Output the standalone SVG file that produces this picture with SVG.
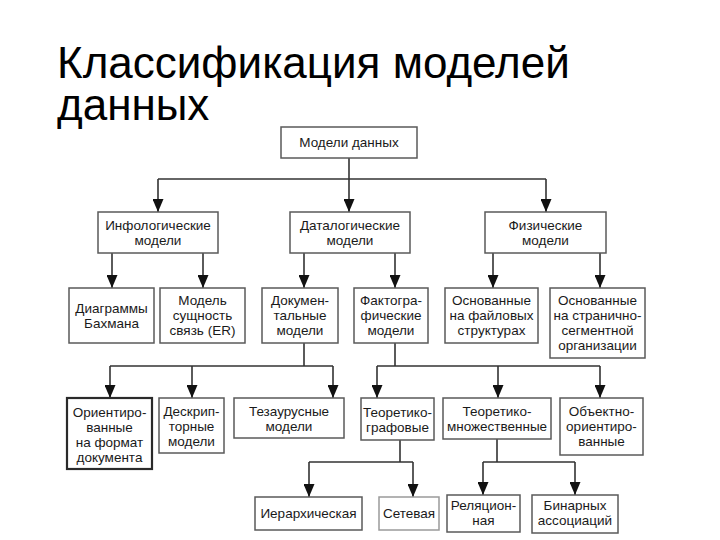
<svg xmlns="http://www.w3.org/2000/svg" width="720" height="540" viewBox="0 0 720 540">
<defs>
<style>
.title{font-family:"Liberation Sans",Arial,sans-serif;font-size:44px;fill:#000}
.box rect{fill:#fff;stroke:#5a5a5a;stroke-width:1.5}
.box text{font-family:"Liberation Sans",Arial,sans-serif;font-size:13.5px;fill:#1a1a1a;text-anchor:middle}
.thick rect{stroke:#2a2a2a;stroke-width:2.2}
.light rect{stroke:#9a9a9a}
.conn path{fill:none;stroke:#333;stroke-width:1.6}
.conn path.arr{marker-end:url(#ah)}
</style>
<marker id="ah" markerUnits="userSpaceOnUse" markerWidth="13" markerHeight="11" viewBox="0 0 13 11" refX="13" refY="5.5" orient="auto">
<path d="M0,0 L13,5.5 L0,11 Z" fill="#111"/>
</marker>
</defs>
<rect width="720" height="540" fill="#fff"/>
<text class="title" x="57" y="78">Классификация моделей</text>
<text class="title" x="57" y="120">данных</text>

<g class="conn" id="connectors">
<path d="M349,158 V179"/>
<path d="M158,179 H546"/>
<path class="arr" d="M158,179 V212"/>
<path class="arr" d="M349,179 V212"/>
<path class="arr" d="M546,179 V212"/>
<path class="arr" d="M112,253 V288"/>
<path class="arr" d="M203,253 V288"/>
<path class="arr" d="M304,253 V288"/>
<path class="arr" d="M395,253 V288"/>
<path class="arr" d="M493,253 V288"/>
<path class="arr" d="M600,253 V288"/>
<path d="M304,343 V366 M110,366 H333"/>
<path class="arr" d="M110,366 V398"/>
<path class="arr" d="M192,366 V398"/>
<path class="arr" d="M333,366 V398"/>
<path d="M395,343 V366 M377,366 H600"/>
<path class="arr" d="M377,366 V398"/>
<path class="arr" d="M498,366 V398"/>
<path class="arr" d="M600,366 V398"/>
<path d="M400,440 V462 M309,462 H413"/>
<path class="arr" d="M309,462 V497"/>
<path class="arr" d="M413,462 V497"/>
<path d="M497,439 V462 M483,462 H575"/>
<path class="arr" d="M483,462 V495"/>
<path class="arr" d="M575,462 V495"/>
</g>

<g class="box" id="n-root"><rect x="281" y="127" width="136" height="31"/><text x="349" y="147">Модели данных</text></g>

<g class="box" id="n-info"><rect x="98" y="212" width="120" height="41"/><text x="158" y="230">Инфологические</text><text x="158" y="245">модели</text></g>
<g class="box" id="n-data"><rect x="290" y="212" width="120" height="41"/><text x="350" y="230">Даталогические</text><text x="350" y="245">модели</text></g>
<g class="box" id="n-phys"><rect x="485" y="212" width="121" height="41"/><text x="545.5" y="230">Физические</text><text x="545.5" y="245">модели</text></g>

<g class="box" id="n-bachman"><rect x="69" y="288" width="85" height="55"/><text x="111.5" y="313">Диаграммы</text><text x="111.5" y="328">Бахмана</text></g>
<g class="box" id="n-er"><rect x="160" y="288" width="85" height="55"/><text x="202.5" y="305">Модель</text><text x="202.5" y="320">сущность</text><text x="202.5" y="335">связь (ER)</text></g>
<g class="box" id="n-doc"><rect x="262" y="288" width="76" height="55"/><text x="300" y="305">Докумен-</text><text x="300" y="320">тальные</text><text x="300" y="335">модели</text></g>
<g class="box" id="n-fact"><rect x="354" y="288" width="74" height="55"/><text x="391" y="305">Фактогра-</text><text x="391" y="320">фические</text><text x="391" y="335">модели</text></g>
<g class="box" id="n-file"><rect x="445" y="288" width="93" height="55"/><text x="491.5" y="305">Основанные</text><text x="491.5" y="320">на файловых</text><text x="491.5" y="335">структурах</text></g>
<g class="box" id="n-page"><rect x="550" y="288" width="95" height="70"/><text x="597.5" y="305">Основанные</text><text x="597.5" y="320">на странично-</text><text x="597.5" y="335">сегментной</text><text x="597.5" y="350">организации</text></g>

<g class="box thick" id="n-format"><rect x="67" y="398" width="85" height="71"/><text x="109.5" y="417">Ориентиро-</text><text x="109.5" y="432">ванные</text><text x="109.5" y="447">на формат</text><text x="109.5" y="462">документа</text></g>
<g class="box" id="n-descr"><rect x="159" y="398" width="65" height="55"/><text x="191.5" y="416">Дескрип-</text><text x="191.5" y="431">торные</text><text x="191.5" y="446">модели</text></g>
<g class="box" id="n-thes"><rect x="234" y="398" width="110" height="40"/><text x="289" y="416">Тезаурусные</text><text x="289" y="431">модели</text></g>
<g class="box" id="n-graph"><rect x="361" y="398" width="73" height="42"/><text x="397.5" y="417">Теоретико-</text><text x="397.5" y="432">графовые</text></g>
<g class="box" id="n-set"><rect x="443" y="398" width="108" height="41"/><text x="497" y="416">Теоретико-</text><text x="497" y="431">множественные</text></g>
<g class="box" id="n-oo"><rect x="560" y="398" width="83" height="57"/><text x="601.5" y="416">Объектно-</text><text x="601.5" y="431">ориентиро-</text><text x="601.5" y="446">ванные</text></g>

<g class="box" id="n-hier"><rect x="255" y="497" width="107" height="33"/><text x="308.5" y="518">Иерархическая</text></g>
<g class="box light" id="n-net"><rect x="379" y="497" width="60" height="33"/><text x="409" y="518">Сетевая</text></g>
<g class="box" id="n-rel"><rect x="447" y="495" width="73" height="37"/><text x="483.5" y="510">Реляцион-</text><text x="483.5" y="525">ная</text></g>
<g class="box" id="n-bin"><rect x="532" y="495" width="86" height="38"/><text x="575" y="510">Бинарных</text><text x="575" y="525">ассоциаций</text></g>
</svg>
